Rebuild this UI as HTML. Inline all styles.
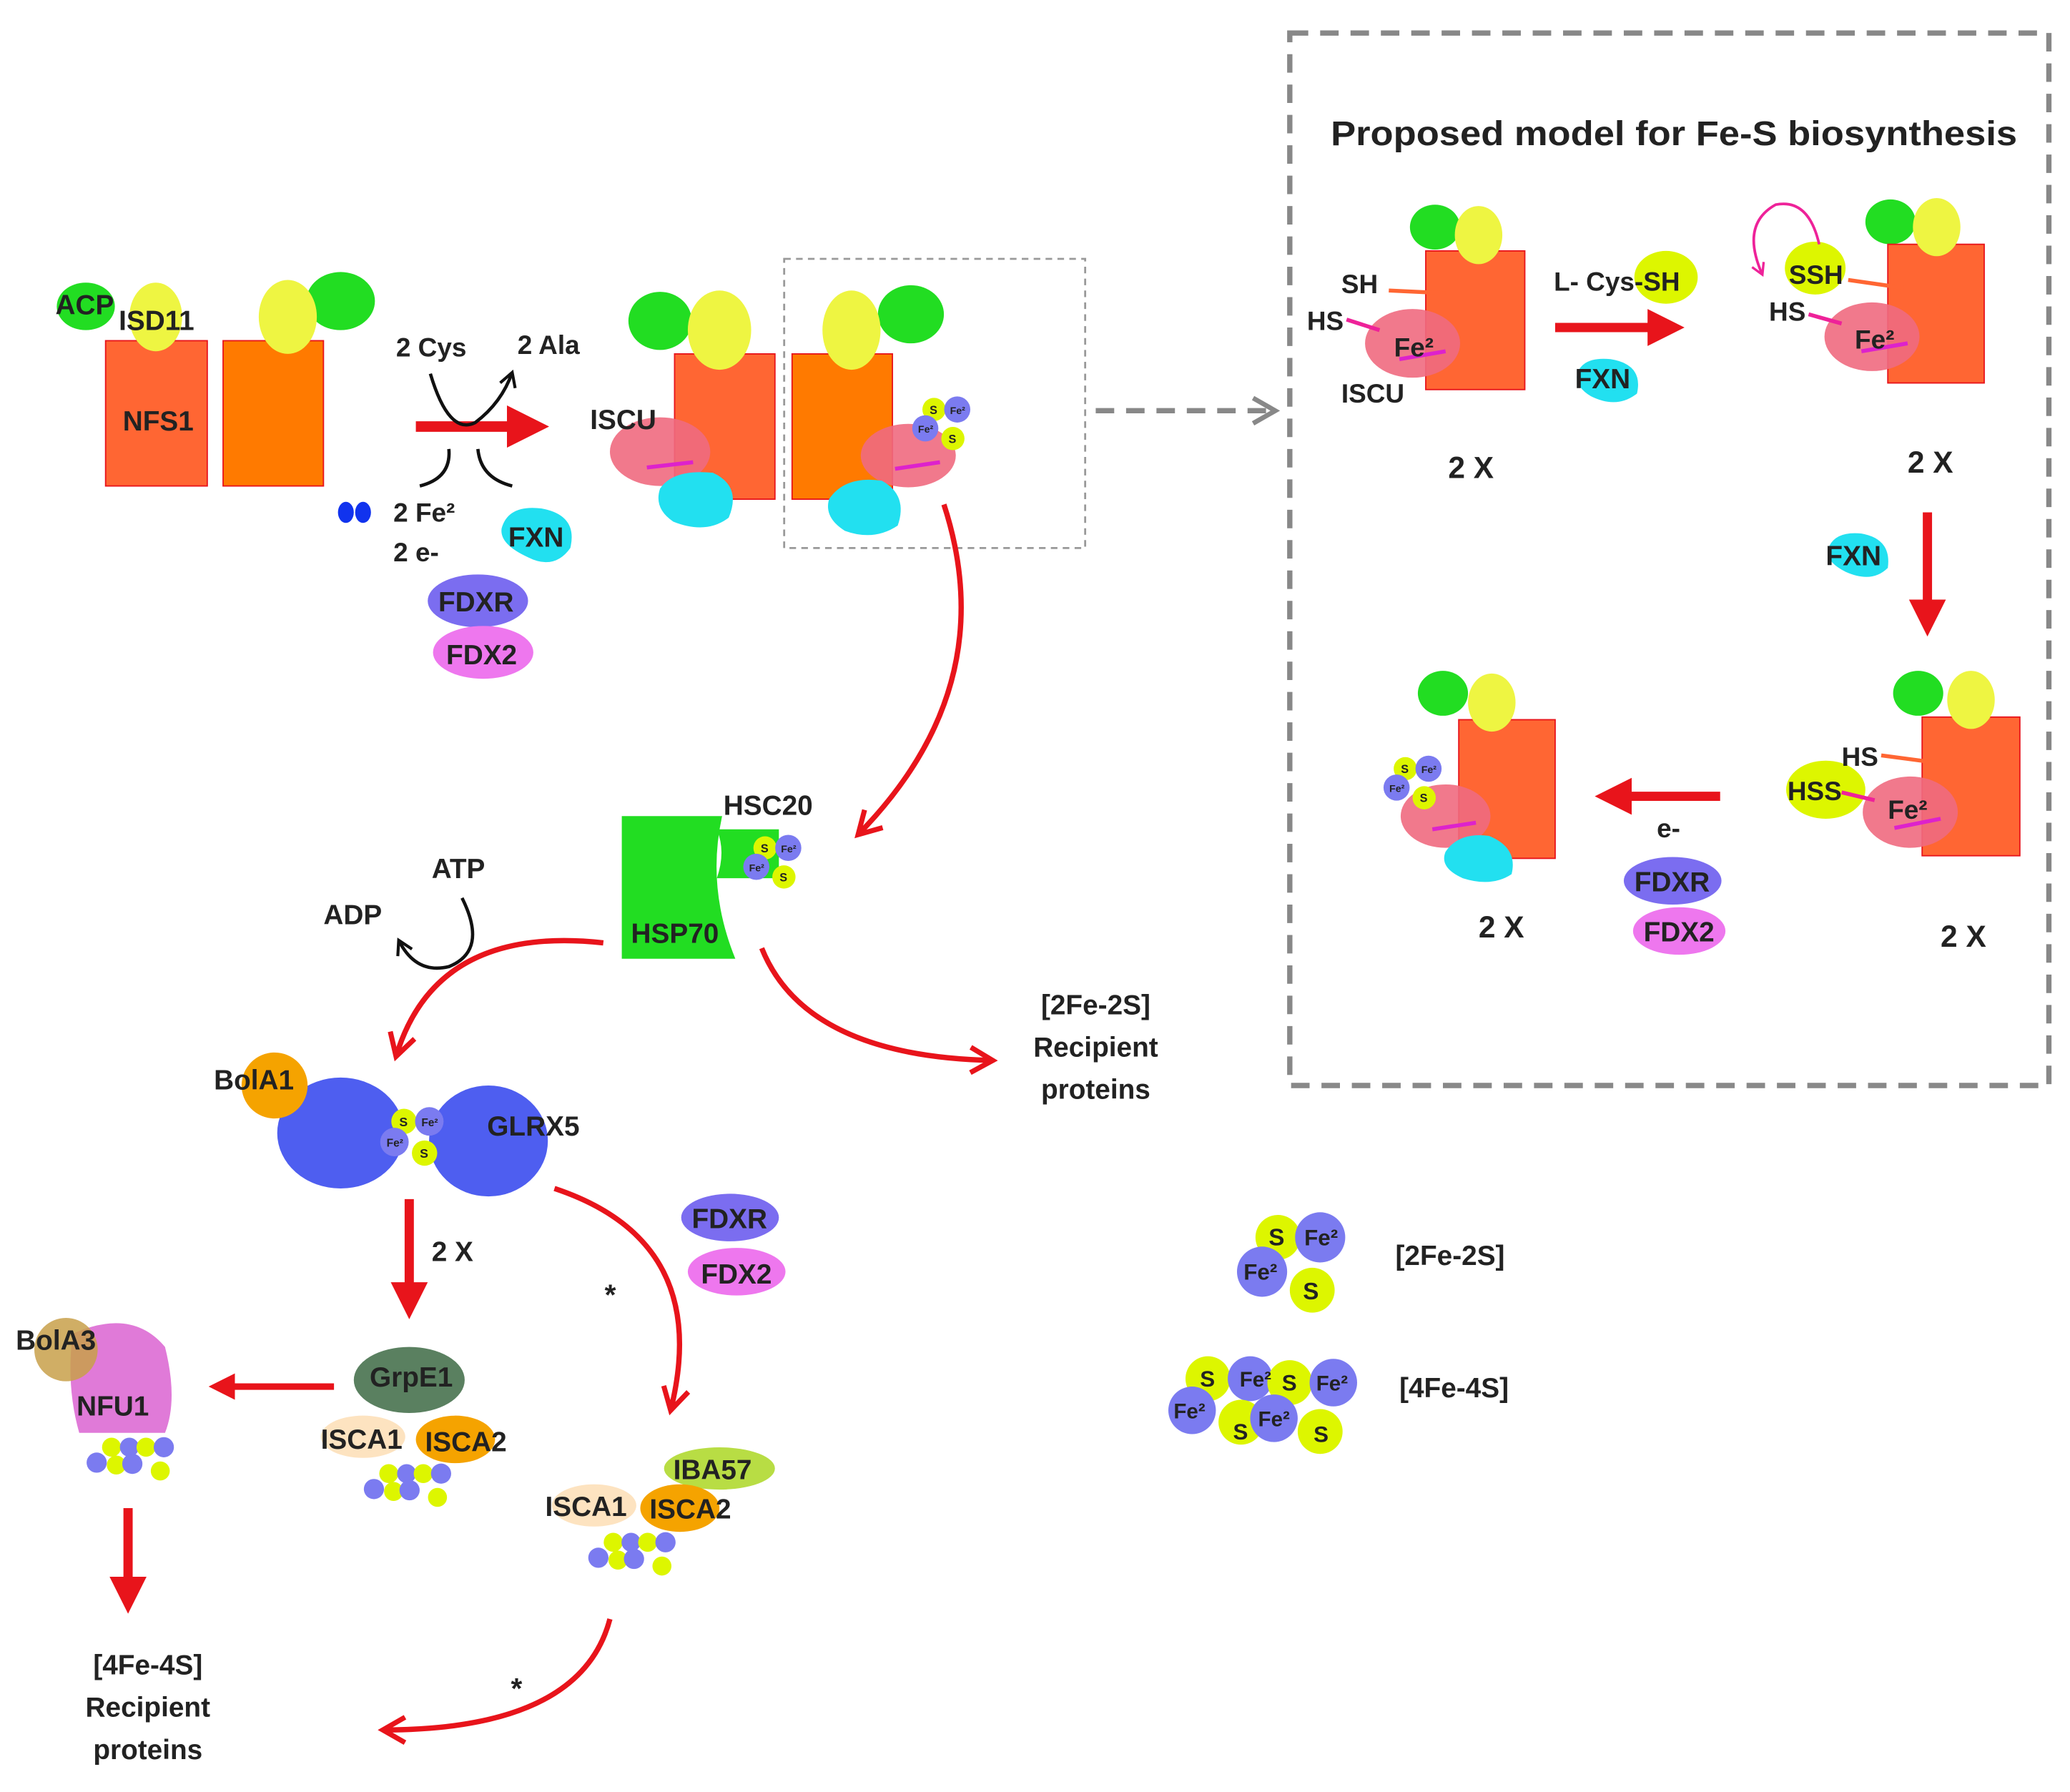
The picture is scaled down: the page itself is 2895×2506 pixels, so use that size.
<!DOCTYPE html>
<html><head><meta charset="utf-8"><style>
html,body{margin:0;padding:0;background:#fff;}
svg{display:block;}
text{font-family:"Liberation Sans",sans-serif;font-weight:bold;fill:#222;}
</style></head><body>
<svg width="2895" height="2506" viewBox="0 0 1568 1357" preserveAspectRatio="none" xmlns="http://www.w3.org/2000/svg">
<defs>
<marker id="ah" viewBox="0 0 10 10" refX="5" refY="5" markerWidth="4" markerHeight="4" orient="auto"><path d="M0,0 L10,5 L0,10 z" fill="#e8141b"/></marker>
<marker id="oh" viewBox="0 0 10 10" refX="8" refY="5" markerWidth="6" markerHeight="6" orient="auto"><path d="M1,1 L8,5 L1,9" fill="none" stroke="#e8141b" stroke-width="1.6"/></marker>
<marker id="gh" viewBox="0 0 10 10" refX="8" refY="5" markerWidth="6" markerHeight="6" orient="auto"><path d="M1,1 L8,5 L1,9" fill="none" stroke="#888" stroke-width="1.5"/></marker>
<marker id="bh" viewBox="0 0 10 10" refX="8" refY="5" markerWidth="6" markerHeight="6" orient="auto"><path d="M1,1 L8,5 L1,9" fill="none" stroke="#111" stroke-width="1.5"/></marker>
<marker id="mh" viewBox="0 0 10 10" refX="8" refY="5" markerWidth="6" markerHeight="6" orient="auto"><path d="M1,1 L8,5 L1,9" fill="none" stroke="#ee2299" stroke-width="1.5"/></marker>
</defs>

<rect x="977" y="25" width="575" height="797" fill="none" stroke="#888" stroke-width="4" stroke-dasharray="14,9"/>
<text x="1008" y="110" font-size="26" fill="#333" textLength="520" lengthAdjust="spacingAndGlyphs">Proposed model for Fe-S biosynthesis</text>
<rect x="594" y="196" width="228" height="219" fill="none" stroke="#999" stroke-width="1.5" stroke-dasharray="5,4"/>
<line x1="830" y1="311" x2="966" y2="311" stroke="#888" stroke-width="4" stroke-dasharray="14,9" marker-end="url(#gh)"/>

<ellipse cx="65" cy="232" rx="22" ry="18" fill="#22dd22"/>
<ellipse cx="258" cy="228" rx="26" ry="22" fill="#22dd22"/>
<rect x="80" y="258" width="77" height="110" fill="#ff6633" stroke="#e8141b"/>
<rect x="169" y="258" width="76" height="110" fill="#ff7a00" stroke="#e8141b"/>
<ellipse cx="118" cy="240" rx="20" ry="26" fill="#eef542"/>
<ellipse cx="218" cy="240" rx="22" ry="28" fill="#eef542"/>
<text x="42" y="238" font-size="21">ACP</text>
<text x="90" y="250" font-size="21">ISD11</text>
<text x="93" y="326" font-size="21">NFS1</text>

<line x1="315" y1="323" x2="400" y2="323" stroke="#e8141b" stroke-width="8" marker-end="url(#ah)"/>
<text x="300" y="270" font-size="20">2 Cys</text>
<text x="392" y="268" font-size="20">2 Ala</text>
<path d="M326,283 Q340,330 360,320 Q380,305 388,282" fill="none" stroke="#111" stroke-width="2.5" marker-end="url(#bh)"/>
<path d="M340,340 Q342,362 318,368" fill="none" stroke="#111" stroke-width="2.5"/>
<path d="M362,340 Q364,362 388,368" fill="none" stroke="#111" stroke-width="2.5"/>
<ellipse cx="262" cy="388" rx="6" ry="8" fill="#1133ee"/><ellipse cx="275" cy="388" rx="6" ry="8" fill="#1133ee"/>
<text x="298" y="395" font-size="20">2 Fe²</text>
<text x="298" y="425" font-size="20">2 e-</text>
<path d="M380,400 Q385,382 410,385 Q438,390 432,415 Q420,432 400,422 Q378,412 380,400z" fill="#22e0f0"/>
<text x="385" y="414" font-size="21">FXN</text>
<ellipse cx="362" cy="455" rx="38" ry="20" fill="#7b6df0"/>
<ellipse cx="366" cy="494" rx="38" ry="20" fill="#ee77ee"/>
<text x="332" y="463" font-size="21">FDXR</text>
<text x="338" y="503" font-size="21">FDX2</text>

<ellipse cx="500" cy="243" rx="24" ry="22" fill="#22dd22"/>
<ellipse cx="690" cy="238" rx="25" ry="22" fill="#22dd22"/>
<rect x="511" y="268" width="76" height="110" fill="#ff6633" stroke="#e8141b"/>
<rect x="600" y="268" width="76" height="110" fill="#ff7a00" stroke="#e8141b"/>
<ellipse cx="545" cy="250" rx="24" ry="30" fill="#eef542"/>
<ellipse cx="645" cy="250" rx="22" ry="30" fill="#eef542"/>
<ellipse cx="500" cy="342" rx="38" ry="26" fill="#f06a80" opacity="0.9"/>
<line x1="490" y1="354" x2="525" y2="350" stroke="#dd22cc" stroke-width="3"/>
<path d="M500,370 Q510,355 540,358 Q562,368 552,392 Q535,405 510,395 Q495,385 500,370z" fill="#22e0f0"/>
<ellipse cx="688" cy="345" rx="36" ry="24" fill="#f06a80" opacity="0.9"/>
<line x1="678" y1="355" x2="712" y2="350" stroke="#dd22cc" stroke-width="3"/>
<path d="M628,378 Q640,360 668,364 Q688,375 680,398 Q662,410 640,402 Q624,392 628,378z" fill="#22e0f0"/>
<g transform="translate(713,320) scale(0.55)"><circle cx="-10" cy="-18" r="16" fill="#ddf600"/><circle cx="22" cy="-18" r="18" fill="#7b7bf0"/><circle cx="-22" cy="8" r="18" fill="#7b7bf0"/><circle cx="16" cy="22" r="16" fill="#ddf600"/><text x="-16" y="-12" font-size="16">S</text><text x="12" y="-12" font-size="14">Fe²</text><text x="-32" y="14" font-size="14">Fe²</text><text x="10" y="28" font-size="16">S</text></g>
<text x="447" y="325" font-size="21">ISCU</text>

<path d="M715,382 Q760,520 650,632" fill="none" stroke="#e8141b" stroke-width="4" marker-end="url(#oh)"/>

<path d="M471,618 L547,618 Q535,672 557,726 L471,726 z" fill="#22dd22"/>
<path d="M543,628 L590,628 L590,665 L543,665 Q550,645 543,628z" fill="#22dd22"/>
<g transform="translate(585,652) scale(0.55)"><circle cx="-10" cy="-18" r="16" fill="#ddf600"/><circle cx="22" cy="-18" r="18" fill="#7b7bf0"/><circle cx="-22" cy="8" r="18" fill="#7b7bf0"/><circle cx="16" cy="22" r="16" fill="#ddf600"/><text x="-16" y="-12" font-size="16">S</text><text x="12" y="-12" font-size="14">Fe²</text><text x="-32" y="14" font-size="14">Fe²</text><text x="10" y="28" font-size="16">S</text></g>
<text x="548" y="617" font-size="21">HSC20</text>
<text x="478" y="714" font-size="21">HSP70</text>

<text x="327" y="665" font-size="21">ATP</text>
<text x="245" y="700" font-size="21">ADP</text>
<path d="M350,680 Q370,720 340,732 Q315,738 302,712" fill="none" stroke="#111" stroke-width="2.5" marker-end="url(#bh)"/>
<path d="M457,714 Q330,700 300,800" fill="none" stroke="#e8141b" stroke-width="4" marker-end="url(#oh)"/>
<path d="M577,718 Q610,800 752,803" fill="none" stroke="#e8141b" stroke-width="4" marker-end="url(#oh)"/>
<text x="830" y="768" font-size="21" text-anchor="middle">[2Fe-2S]</text>
<text x="830" y="800" font-size="21" text-anchor="middle">Recipient</text>
<text x="830" y="832" font-size="21" text-anchor="middle">proteins</text>

<ellipse cx="258" cy="858" rx="48" ry="42" fill="#4e5ef0"/>
<ellipse cx="370" cy="864" rx="45" ry="42" fill="#4e5ef0"/>
<circle cx="208" cy="822" r="25" fill="#f5a300"/>
<g transform="translate(312,860) scale(0.6)"><circle cx="-10" cy="-18" r="16" fill="#ddf600"/><circle cx="22" cy="-18" r="18" fill="#7b7bf0"/><circle cx="-22" cy="8" r="18" fill="#7b7bf0"/><circle cx="16" cy="22" r="16" fill="#ddf600"/><text x="-16" y="-12" font-size="16">S</text><text x="12" y="-12" font-size="14">Fe²</text><text x="-32" y="14" font-size="14">Fe²</text><text x="10" y="28" font-size="16">S</text></g>
<text x="162" y="825" font-size="21">BolA1</text>
<text x="369" y="860" font-size="21">GLRX5</text>

<line x1="310" y1="908" x2="310" y2="985" stroke="#e8141b" stroke-width="7" marker-end="url(#ah)"/>
<text x="327" y="955" font-size="21">2 X</text>
<path d="M420,900 Q540,940 508,1068" fill="none" stroke="#e8141b" stroke-width="4" marker-end="url(#oh)"/>
<text x="458" y="988" font-size="22">*</text>
<ellipse cx="553" cy="922" rx="37" ry="18" fill="#7b6df0"/>
<ellipse cx="558" cy="963" rx="37" ry="18" fill="#ee77ee"/>
<text x="524" y="930" font-size="21">FDXR</text>
<text x="531" y="972" font-size="21">FDX2</text>

<ellipse cx="310" cy="1045" rx="42" ry="25" fill="#5a8060"/>
<ellipse cx="275" cy="1088" rx="32" ry="16" fill="#fde3c0"/>
<ellipse cx="345" cy="1090" rx="30" ry="18" fill="#f5a300"/>
<text x="280" y="1050" font-size="21">GrpE1</text>
<text x="243" y="1097" font-size="21">ISCA1</text>
<text x="322" y="1099" font-size="21">ISCA2</text>
<g transform="translate(308,1124) scale(0.45)"><circle cx="-30" cy="-18" r="16" fill="#ddf600"/><circle cx="0" cy="-18" r="16" fill="#7b7bf0"/><circle cx="28" cy="-18" r="16" fill="#ddf600"/><circle cx="58" cy="-18" r="17" fill="#7b7bf0"/><circle cx="-55" cy="8" r="17" fill="#7b7bf0"/><circle cx="-22" cy="12" r="16" fill="#ddf600"/><circle cx="5" cy="10" r="17" fill="#7b7bf0"/><circle cx="52" cy="22" r="16" fill="#ddf600"/></g>
<line x1="253" y1="1050" x2="168" y2="1050" stroke="#e8141b" stroke-width="5" marker-end="url(#ah)"/>

<path d="M55,1010 Q100,990 125,1020 Q135,1060 125,1085 L60,1085 Q50,1050 55,1010z" fill="#e07ad8"/>
<circle cx="50" cy="1022" r="24" fill="#c8a04a" opacity="0.85"/>
<text x="12" y="1022" font-size="21">BolA3</text>
<text x="58" y="1072" font-size="21">NFU1</text>
<g transform="translate(98,1104) scale(0.45)"><circle cx="-30" cy="-18" r="16" fill="#ddf600"/><circle cx="0" cy="-18" r="16" fill="#7b7bf0"/><circle cx="28" cy="-18" r="16" fill="#ddf600"/><circle cx="58" cy="-18" r="17" fill="#7b7bf0"/><circle cx="-55" cy="8" r="17" fill="#7b7bf0"/><circle cx="-22" cy="12" r="16" fill="#ddf600"/><circle cx="5" cy="10" r="17" fill="#7b7bf0"/><circle cx="52" cy="22" r="16" fill="#ddf600"/></g>
<line x1="97" y1="1142" x2="97" y2="1208" stroke="#e8141b" stroke-width="7" marker-end="url(#ah)"/>
<text x="112" y="1268" font-size="21" text-anchor="middle">[4Fe-4S]</text>
<text x="112" y="1300" font-size="21" text-anchor="middle">Recipient</text>
<text x="112" y="1332" font-size="21" text-anchor="middle">proteins</text>

<ellipse cx="545" cy="1112" rx="42" ry="16" fill="#b8dd44"/>
<ellipse cx="450" cy="1140" rx="32" ry="16" fill="#fde3c0"/>
<ellipse cx="515" cy="1142" rx="30" ry="18" fill="#f5a300"/>
<text x="510" y="1120" font-size="21">IBA57</text>
<text x="413" y="1148" font-size="21">ISCA1</text>
<text x="492" y="1150" font-size="21">ISCA2</text>
<g transform="translate(478,1176) scale(0.45)"><circle cx="-30" cy="-18" r="16" fill="#ddf600"/><circle cx="0" cy="-18" r="16" fill="#7b7bf0"/><circle cx="28" cy="-18" r="16" fill="#ddf600"/><circle cx="58" cy="-18" r="17" fill="#7b7bf0"/><circle cx="-55" cy="8" r="17" fill="#7b7bf0"/><circle cx="-22" cy="12" r="16" fill="#ddf600"/><circle cx="5" cy="10" r="17" fill="#7b7bf0"/><circle cx="52" cy="22" r="16" fill="#ddf600"/></g>
<path d="M462,1226 Q440,1310 290,1310" fill="none" stroke="#e8141b" stroke-width="4" marker-end="url(#oh)"/>
<text x="387" y="1286" font-size="22">*</text>

<g transform="translate(978,955)"><circle cx="-10" cy="-18" r="17" fill="#ddf600"/><circle cx="22" cy="-18" r="19" fill="#7b7bf0"/><circle cx="-22" cy="8" r="19" fill="#7b7bf0"/><circle cx="16" cy="22" r="17" fill="#ddf600"/><text x="-17" y="-12" font-size="18">S</text><text x="10" y="-12" font-size="17">Fe²</text><text x="-36" y="14" font-size="17">Fe²</text><text x="9" y="29" font-size="18">S</text></g>
<text x="1057" y="958" font-size="21">[2Fe-2S]</text>
<g transform="translate(955,1062)"><circle cx="-40" cy="-18" r="17" fill="#ddf600"/><circle cx="-8" cy="-18" r="17" fill="#7b7bf0"/><circle cx="22" cy="-15" r="17" fill="#ddf600"/><circle cx="55" cy="-15" r="18" fill="#7b7bf0"/><circle cx="-52" cy="6" r="18" fill="#7b7bf0"/><circle cx="-15" cy="15" r="17" fill="#ddf600"/><circle cx="10" cy="12" r="18" fill="#7b7bf0"/><circle cx="45" cy="22" r="17" fill="#ddf600"/><text x="-46" y="-12" font-size="17">S</text><text x="-16" y="-12" font-size="16">Fe²</text><text x="16" y="-9" font-size="17">S</text><text x="42" y="-9" font-size="16">Fe²</text><text x="-66" y="12" font-size="16">Fe²</text><text x="-21" y="28" font-size="17">S</text><text x="-2" y="18" font-size="16">Fe²</text><text x="40" y="30" font-size="17">S</text></g>
<text x="1060" y="1058" font-size="21">[4Fe-4S]</text>

<ellipse cx="1087" cy="172" rx="19" ry="17" fill="#22dd22"/>
<rect x="1080" y="190" width="75" height="105" fill="#ff6633" stroke="#e8141b"/>
<ellipse cx="1120" cy="178" rx="18" ry="22" fill="#eef542"/>
<ellipse cx="1070" cy="260" rx="36" ry="26" fill="#f06a80" opacity="0.9"/>
<line x1="1052" y1="220" x2="1095" y2="222" stroke="#ff6633" stroke-width="3"/>
<line x1="1020" y1="242" x2="1045" y2="250" stroke="#ee2299" stroke-width="3"/>
<line x1="1060" y1="272" x2="1095" y2="266" stroke="#dd22cc" stroke-width="3"/>
<text x="1016" y="222" font-size="20">SH</text>
<text x="990" y="250" font-size="20">HS</text>
<text x="1056" y="270" font-size="20">Fe²</text>
<text x="1016" y="305" font-size="20">ISCU</text>
<text x="1097" y="362" font-size="23">2 X</text>
<line x1="1178" y1="248" x2="1262" y2="248" stroke="#e8141b" stroke-width="7" marker-end="url(#ah)"/>
<ellipse cx="1262" cy="210" rx="24" ry="20" fill="#ddf600"/>
<text x="1177" y="220" font-size="20">L- Cys-SH</text>
<path d="M1195,282 Q1200,270 1220,272 Q1245,276 1240,298 Q1225,310 1205,300 Q1192,292 1195,282z" fill="#22e0f0"/>
<text x="1193" y="294" font-size="21">FXN</text>

<ellipse cx="1432" cy="168" rx="19" ry="17" fill="#22dd22"/>
<rect x="1430" y="185" width="73" height="105" fill="#ff6633" stroke="#e8141b"/>
<ellipse cx="1467" cy="172" rx="18" ry="22" fill="#eef542"/>
<ellipse cx="1375" cy="203" rx="23" ry="20" fill="#ddf600"/>
<ellipse cx="1418" cy="255" rx="36" ry="26" fill="#f06a80" opacity="0.9"/>
<line x1="1400" y1="212" x2="1442" y2="218" stroke="#ff6633" stroke-width="3"/>
<line x1="1370" y1="238" x2="1395" y2="245" stroke="#ee2299" stroke-width="3"/>
<line x1="1410" y1="266" x2="1445" y2="260" stroke="#dd22cc" stroke-width="3"/>
<path d="M1378,185 Q1370,150 1345,155 Q1318,170 1335,208" fill="none" stroke="#ee2299" stroke-width="2" marker-end="url(#mh)"/>
<text x="1355" y="215" font-size="20">SSH</text>
<text x="1340" y="243" font-size="20">HS</text>
<text x="1405" y="264" font-size="20">Fe²</text>
<text x="1445" y="358" font-size="23">2 X</text>
<path d="M1385,415 Q1390,402 1410,404 Q1433,408 1430,430 Q1418,442 1398,433 Q1382,425 1385,415z" fill="#22e0f0"/>
<text x="1383" y="428" font-size="21">FXN</text>
<line x1="1460" y1="388" x2="1460" y2="468" stroke="#e8141b" stroke-width="7" marker-end="url(#ah)"/>

<ellipse cx="1453" cy="525" rx="19" ry="17" fill="#22dd22"/>
<rect x="1456" y="543" width="74" height="105" fill="#ff6633" stroke="#e8141b"/>
<ellipse cx="1493" cy="530" rx="18" ry="22" fill="#eef542"/>
<ellipse cx="1383" cy="598" rx="30" ry="22" fill="#ddf600"/>
<ellipse cx="1447" cy="615" rx="36" ry="27" fill="#f06a80" opacity="0.9"/>
<line x1="1425" y1="572" x2="1470" y2="578" stroke="#ff6633" stroke-width="3"/>
<line x1="1395" y1="600" x2="1420" y2="606" stroke="#ee2299" stroke-width="3"/>
<line x1="1435" y1="627" x2="1470" y2="620" stroke="#dd22cc" stroke-width="3"/>
<text x="1395" y="580" font-size="20">HS</text>
<text x="1354" y="606" font-size="20">HSS</text>
<text x="1430" y="620" font-size="20">Fe²</text>
<text x="1470" y="717" font-size="23">2 X</text>
<line x1="1303" y1="603" x2="1222" y2="603" stroke="#e8141b" stroke-width="7" marker-end="url(#ah)"/>
<text x="1255" y="634" font-size="20">e-</text>
<ellipse cx="1267" cy="667" rx="37" ry="18" fill="#7b6df0"/>
<ellipse cx="1272" cy="705" rx="35" ry="18" fill="#ee77ee"/>
<text x="1238" y="675" font-size="21">FDXR</text>
<text x="1245" y="713" font-size="21">FDX2</text>

<ellipse cx="1093" cy="525" rx="19" ry="17" fill="#22dd22"/>
<rect x="1105" y="545" width="73" height="105" fill="#ff6633" stroke="#e8141b"/>
<ellipse cx="1130" cy="532" rx="18" ry="22" fill="#eef542"/>
<ellipse cx="1095" cy="618" rx="34" ry="24" fill="#f06a80" opacity="0.9"/>
<line x1="1085" y1="628" x2="1118" y2="623" stroke="#dd22cc" stroke-width="3"/>
<path d="M1095,645 Q1105,630 1128,633 Q1150,642 1145,662 Q1130,672 1108,665 Q1090,657 1095,645z" fill="#22e0f0"/>
<g transform="translate(1070,592) scale(0.55)"><circle cx="-10" cy="-18" r="16" fill="#ddf600"/><circle cx="22" cy="-18" r="18" fill="#7b7bf0"/><circle cx="-22" cy="8" r="18" fill="#7b7bf0"/><circle cx="16" cy="22" r="16" fill="#ddf600"/><text x="-16" y="-12" font-size="16">S</text><text x="12" y="-12" font-size="14">Fe²</text><text x="-32" y="14" font-size="14">Fe²</text><text x="10" y="28" font-size="16">S</text></g>
<text x="1120" y="710" font-size="23">2 X</text>
</svg>
</body></html>
